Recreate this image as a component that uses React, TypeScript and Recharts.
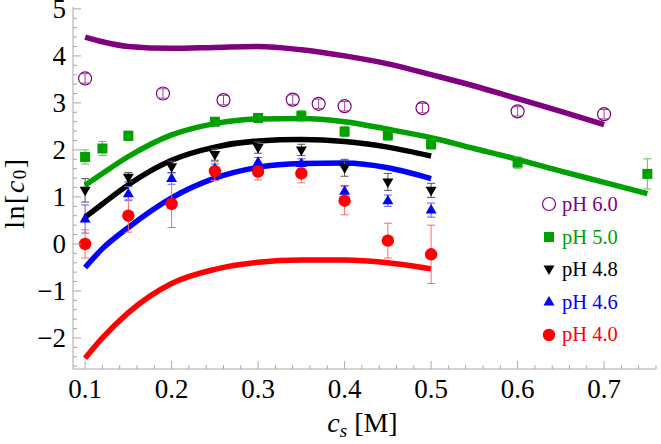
import { ComposedChart, Line, Scatter, XAxis, YAxis, ErrorBar, Legend, Label } from 'recharts';

// fitted curves
const curveX = [0.1, 0.12, 0.15, 0.2, 0.25, 0.3, 0.35, 0.4, 0.45, 0.5];
const curveX60 = [0.1, 0.12, 0.15, 0.2, 0.25, 0.3, 0.35, 0.4, 0.45, 0.5, 0.55, 0.6, 0.65, 0.7];
const curveX50 = [0.1, 0.12, 0.15, 0.2, 0.25, 0.3, 0.35, 0.4, 0.45, 0.5, 0.55, 0.6, 0.65, 0.7, 0.75];
const fit60 = [4.4, 4.3, 4.2, 4.16, 4.18, 4.2, 4.13, 4.0, 3.83, 3.6, 3.36, 3.09, 2.82, 2.54];
const fit50 = [1.25, 1.5, 1.86, 2.32, 2.56, 2.66, 2.67, 2.6, 2.44, 2.26, 2.03, 1.8, 1.55, 1.31, 1.07];
const fit48 = [0.57, 0.85, 1.26, 1.78, 2.06, 2.19, 2.22, 2.18, 2.06, 1.87];
const fit46 = [-0.5, -0.1, 0.35, 0.98, 1.4, 1.63, 1.71, 1.72, 1.62, 1.39];
const fit40 = [-2.43, -2.0, -1.46, -0.84, -0.54, -0.39, -0.34, -0.34, -0.4, -0.53];

// measured points
const x60 = [0.1, 0.19, 0.26, 0.34, 0.37, 0.4, 0.49, 0.6, 0.7];
const y60 = [3.52, 3.2, 3.06, 3.07, 2.98, 2.93, 2.89, 2.82, 2.76];
const e60 = [0.1, 0.1, 0.1, 0.1, 0.1, 0.1, 0.1, 0.1, 0.1];
const x50 = [0.1, 0.12, 0.15, 0.25, 0.3, 0.35, 0.4, 0.45, 0.5, 0.6, 0.75];
const y50 = [1.85, 2.03, 2.3, 2.6, 2.68, 2.72, 2.39, 2.31, 2.12, 1.73, 1.49];
const e50 = [0.15, 0.15, 0.1, 0.08, 0.08, 0.12, 0.1, 0.1, 0.1, 0.12, 0.32];
const xPts = [0.1, 0.15, 0.2, 0.25, 0.3, 0.35, 0.4, 0.45, 0.5];
const y48 = [1.14, 1.42, 1.64, 1.9, 2.05, 2.0, 1.62, 1.32, 1.14];
const e48 = [0.25, 0.1, 0.12, 0.12, 0.12, 0.12, 0.18, 0.18, 0.15];
const y46 = [0.53, 1.07, 1.39, 1.6, 1.74, 1.71, 1.12, 0.92, 0.72];
const e46 = [0.3, 0.15, 0.12, 0.1, 0.1, 0.1, 0.12, 0.12, 0.15];
const y40 = [0, 0.6, 0.85, 1.55, 1.54, 1.5, 0.92, 0.07, -0.22];
const e40 = [0.3, 0.35, 0.5, 0.2, 0.18, 0.2, 0.3, 0.37, 0.62];

const xTicks = [0.1, 0.12, 0.14, 0.16, 0.18, 0.2, 0.22, 0.24, 0.26, 0.28, 0.3, 0.32, 0.34, 0.36, 0.38, 0.4,
  0.42, 0.44, 0.46, 0.48, 0.5, 0.52, 0.54, 0.56, 0.58, 0.6, 0.62, 0.64, 0.66, 0.68, 0.7, 0.72, 0.74, 0.76];
const yTicks = [-2.6, -2.4, -2.2, -2, -1.8, -1.6, -1.4, -1.2, -1, -0.8, -0.6, -0.4, -0.2, 0, 0.2, 0.4, 0.6, 0.8,
  1, 1.2, 1.4, 1.6, 1.8, 2, 2.2, 2.4, 2.6, 2.8, 3, 3.2, 3.4, 3.6, 3.8, 4, 4.2, 4.4, 4.6, 4.8, 5];

const legendItems = [
  { name: 'pH 6.0', color: '#800080', shape: 'openCircle' },
  { name: 'pH 5.0', color: '#00a000', shape: 'square' },
  { name: 'pH 4.8', color: '#000000', shape: 'down' },
  { name: 'pH 4.6', color: '#0000ff', shape: 'up' },
  { name: 'pH 4.0', color: '#ff0000', shape: 'circle' },
];

const FONT = '"Liberation Serif", "Times New Roman", serif';
const FRAME = '#a8a8a8';
const tickStyle = { fontFamily: FONT, fontSize: '27px' };
const titleStyle = { fontFamily: FONT, fontSize: '28px' };

const toLine = (xs, ys) => xs.map((x, i) => ({ x, y: ys[i] }));
const toPts = (xs, ys, es) => xs.map((x, i) => ({ x, y: ys[i], err: es[i] }));

const isMajor = (v, step) => Math.abs(v / step - Math.round(v / step)) < 1e-6;

function marker(shape, cx, cy, color) {
  if (shape === 'openCircle') return <circle cx={cx} cy={cy} r={6.5} fill="none" stroke={color} strokeWidth={1.2} />;
  if (shape === 'square') return <rect x={cx - 5} y={cy - 5} width={10} height={10} fill={color} />;
  if (shape === 'down') return <path d={`M${cx - 5.5},${cy - 3.5}L${cx + 5.5},${cy - 3.5}L${cx},${cy + 6}Z`} fill={color} />;
  if (shape === 'up') return <path d={`M${cx - 5.5},${cy + 3.5}L${cx + 5.5},${cy + 3.5}L${cx},${cy - 6}Z`} fill={color} />;
  return <circle cx={cx} cy={cy} r={6.2} fill={color} />;
}

const shapeFor = (shape, color) => (props) => marker(shape, props.cx, props.cy, color);

const BottomTick = ({ x, y, payload }) => {
  const major = isMajor(payload.value, 0.1);
  return (
    <g>
      <line x1={x} y1={y} x2={x} y2={y - (major ? 8 : 4)} stroke={FRAME} />
      {major && (
        <text x={x} y={y + 29} textAnchor="middle" style={tickStyle} fill="#000">
          {payload.value.toFixed(1)}
        </text>
      )}
    </g>
  );
};

const TopTick = ({ x, y, payload }) => {
  const major = isMajor(payload.value, 0.1);
  return <line x1={x} y1={y} x2={x} y2={y + (major ? 8 : 4)} stroke={FRAME} />;
};

const LeftTick = ({ x, y, payload }) => {
  const major = isMajor(payload.value, 1);
  const v = payload.value;
  return (
    <g>
      <line x1={x} y1={y} x2={x + (major ? 8 : 4)} y2={y} stroke={FRAME} />
      {major && (
        <text x={x - 7} y={y + 9} textAnchor="end" style={tickStyle} fill="#000">
          {v < 0 ? `\u2212${Math.abs(v)}` : `${v}`}
        </text>
      )}
    </g>
  );
};

const RightTick = ({ x, y, payload }) => {
  const major = isMajor(payload.value, 1);
  return <line x1={x} y1={y} x2={x - (major ? 8 : 4)} y2={y} stroke={FRAME} />;
};

const YTitle = ({ viewBox }) => {
  const cx = viewBox.x + 14;
  const cy = viewBox.y + 186;
  return (
    <text x={cx} y={cy} transform={`rotate(-90 ${cx} ${cy})`} textAnchor="middle" dominantBaseline="central"
      style={{ ...titleStyle, letterSpacing: '1.5px' }} fill="#000">
      ln[<tspan fontStyle="italic">c</tspan>
      <tspan style={{ fontSize: '19px' }} dy={5}>0</tspan>
      <tspan dy={-5}>]</tspan>
    </text>
  );
};

const XTitle = ({ viewBox }) => {
  const cx = viewBox.x + viewBox.width / 2 - 2;
  const cy = viewBox.y + 63;
  return (
    <text x={cx} y={cy} textAnchor="middle" style={titleStyle} fill="#000">
      <tspan fontStyle="italic">c</tspan>
      <tspan fontStyle="italic" style={{ fontSize: '19px' }} dy={5}>s</tspan>
      <tspan dy={-5}> [M]</tspan>
    </text>
  );
};

const renderLegend = () => (
  <div style={{ fontFamily: FONT, fontSize: 20.5 }}>
    {legendItems.map((item) => (
      <div key={item.name} style={{ display: 'flex', alignItems: 'center', height: 32.6 }}>
        <svg width={16} height={16}>{marker(item.shape, 8, 8, item.color)}</svg>
        <span style={{ marginLeft: 5, color: item.color, lineHeight: 1 }}>{item.name}</span>
      </div>
    ))}
  </div>
);

export default function App() {
  return (
    <div style={{ position: 'absolute', left: 0, top: 0, background: '#fff' }}>
      <ComposedChart width={661} height={444} margin={{ top: 7, right: 5, bottom: 0, left: 0 }}>
        <XAxis xAxisId="b" type="number" dataKey="x" domain={[0.086, 0.76]} allowDataOverflow ticks={xTicks}
          interval={0} tickSize={0} tickMargin={0} tickLine={false} tick={<BottomTick />} height={75}
          axisLine={{ stroke: FRAME }}>
          <Label content={<XTitle />} />
        </XAxis>
        <XAxis xAxisId="t" orientation="top" type="number" dataKey="x" domain={[0.086, 0.76]} allowDataOverflow
          ticks={xTicks} interval={0} tickSize={0} tickMargin={0} tickLine={false} tick={<TopTick />} height={0}
          axisLine={{ stroke: FRAME }} />
        <YAxis yAxisId="l" type="number" domain={[-2.66, 5.04]} allowDataOverflow ticks={yTicks} interval={0}
          tickSize={0} tickMargin={0} tickLine={false} tick={<LeftTick />} width={73} axisLine={{ stroke: FRAME }}>
          <Label content={<YTitle />} />
        </YAxis>
        <YAxis yAxisId="r" orientation="right" type="number" domain={[-2.66, 5.04]} allowDataOverflow ticks={yTicks}
          interval={0} tickSize={0} tickMargin={0} tickLine={false} tick={<RightTick />} width={0}
          axisLine={{ stroke: FRAME }} />

        <Line xAxisId="b" yAxisId="l" data={toLine(curveX60, fit60)} dataKey="y" type="monotone" stroke="#800080"
          strokeWidth={5.5} dot={false} isAnimationActive={false} />
        <Line xAxisId="b" yAxisId="l" data={toLine(curveX50, fit50)} dataKey="y" type="monotone" stroke="#00a000"
          strokeWidth={5.5} dot={false} isAnimationActive={false} />
        <Line xAxisId="b" yAxisId="l" data={toLine(curveX, fit48)} dataKey="y" type="monotone" stroke="#000000"
          strokeWidth={5.5} dot={false} isAnimationActive={false} />
        <Line xAxisId="b" yAxisId="l" data={toLine(curveX, fit46)} dataKey="y" type="monotone" stroke="#0000ff"
          strokeWidth={5.5} dot={false} isAnimationActive={false} />
        <Line xAxisId="b" yAxisId="l" data={toLine(curveX, fit40)} dataKey="y" type="monotone" stroke="#ff0000"
          strokeWidth={5.5} dot={false} isAnimationActive={false} />

        <Scatter xAxisId="b" yAxisId="l" data={toPts(x60, y60, e60)} dataKey="y" shape={shapeFor('openCircle', '#800080')}
          isAnimationActive={false}>
          <ErrorBar dataKey="err" direction="y" width={4} stroke="#9a4a9a" strokeWidth={1} isAnimationActive={false} />
        </Scatter>
        <Scatter xAxisId="b" yAxisId="l" data={toPts(x50, y50, e50)} dataKey="y" shape={shapeFor('square', '#00a000')}
          isAnimationActive={false}>
          <ErrorBar dataKey="err" direction="y" width={4} stroke="#5cbf5c" strokeWidth={1} isAnimationActive={false} />
        </Scatter>
        <Scatter xAxisId="b" yAxisId="l" data={toPts(xPts, y48, e48)} dataKey="y" shape={shapeFor('down', '#000000')}
          isAnimationActive={false}>
          <ErrorBar dataKey="err" direction="y" width={4} stroke="#555555" strokeWidth={1} isAnimationActive={false} />
        </Scatter>
        <Scatter xAxisId="b" yAxisId="l" data={toPts(xPts, y46, e46)} dataKey="y" shape={shapeFor('up', '#0000ff')}
          isAnimationActive={false}>
          <ErrorBar dataKey="err" direction="y" width={4} stroke="#5a5aff" strokeWidth={1} isAnimationActive={false} />
        </Scatter>
        <Scatter xAxisId="b" yAxisId="l" data={toPts(xPts, y40, e40)} dataKey="y" shape={shapeFor('circle', '#ff0000')}
          isAnimationActive={false}>
          <ErrorBar dataKey="err" direction="y" width={4} stroke="#ff6a6a" strokeWidth={1} isAnimationActive={false} />
        </Scatter>

        <Legend layout="vertical" align="center" verticalAlign="middle" content={renderLegend}
          wrapperStyle={{ left: 541, top: 188, width: 120 }} />
      </ComposedChart>
    </div>
  );
}
